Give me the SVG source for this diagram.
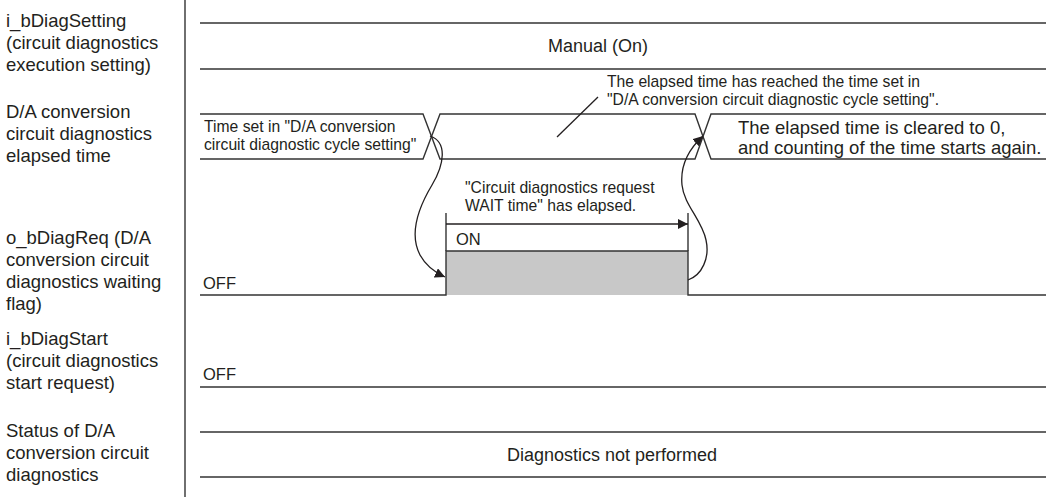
<svg xmlns="http://www.w3.org/2000/svg" width="1046" height="497" viewBox="0 0 1046 497">
<style>
text{font-family:"Liberation Sans",Arial,sans-serif;fill:#231f20}
.lbl{font-size:18.5px}
.sm{font-size:15.7px}
.md{font-size:16.5px}
.st{font-size:18px}
.big{font-size:18.5px}
.ln{fill:none;stroke:#333;stroke-width:1.4}
.cv{fill:none;stroke:#231f20;stroke-width:1.3}
</style>
<defs>
<marker id="ah" viewBox="0 0 10 10" refX="10" refY="5" markerWidth="10" markerHeight="10" markerUnits="userSpaceOnUse" orient="auto">
<path d="M0,0 L10,5 L0,10 Z" fill="#231f20"/>
</marker>
</defs>
<rect width="1046" height="497" fill="#fff"/>
<g id="labels">
<line class="ln" x1="185" y1="0" x2="185" y2="497"/>
<text class="lbl" x="6" y="27">i_bDiagSetting</text>
<text class="lbl" x="6" y="49">(circuit diagnostics</text>
<text class="lbl" x="6" y="71">execution setting)</text>
<text class="lbl" x="6" y="118">D/A conversion</text>
<text class="lbl" x="6" y="140">circuit diagnostics</text>
<text class="lbl" x="6" y="162">elapsed time</text>
<text class="lbl" x="6" y="244">o_bDiagReq (D/A</text>
<text class="lbl" x="6" y="266">conversion circuit</text>
<text class="lbl" x="6" y="288">diagnostics waiting</text>
<text class="lbl" x="6" y="310">flag)</text>
<text class="lbl" x="6" y="345">i_bDiagStart</text>
<text class="lbl" x="6" y="367">(circuit diagnostics</text>
<text class="lbl" x="6" y="389">start request)</text>
<text class="lbl" x="6" y="437">Status of D/A</text>
<text class="lbl" x="6" y="459">conversion circuit</text>
<text class="lbl" x="6" y="481">diagnostics</text>
</g>
<g id="row-setting">
<line class="ln" x1="200" y1="23" x2="1046" y2="23"/>
<line class="ln" x1="200" y1="69" x2="1046" y2="69"/>
<text class="st" x="598" y="52" text-anchor="middle">Manual (On)</text>
</g>
<g id="row-elapsed">
<path class="ln" d="M200,114 H423 L440,159 H695 L711,114 H1046"/>
<path class="ln" d="M200,159 H423 L440,114 H695 L711,159 H1046"/>
<text class="sm" x="204" y="132">Time set in "D/A conversion</text>
<text class="sm" x="204" y="150">circuit diagnostic cycle setting"</text>
<text class="sm" x="607" y="87">The elapsed time has reached the time set in</text>
<text class="sm" x="607" y="105">"D/A conversion circuit diagnostic cycle setting".</text>
<line class="cv" x1="557" y1="137" x2="598" y2="97"/>
<text class="big" x="738" y="134">The elapsed time is cleared to 0,</text>
<text class="big" x="738" y="154">and counting of the time starts again.</text>
</g>
<g id="row-req">
<rect x="446" y="251" width="242" height="44" fill="#c8c8c8"/>
<path class="ln" d="M200,295 H446 V251 H688 V295 H1046"/>
<line class="ln" x1="446" y1="213" x2="446" y2="251"/>
<line class="ln" x1="688" y1="213" x2="688" y2="251"/>
<text class="md" x="203" y="289">OFF</text>
<text class="md" x="456" y="245">ON</text>
<text class="sm" x="465" y="193">"Circuit diagnostics request</text>
<text class="sm" x="465" y="211">WAIT time" has elapsed.</text>
</g>
<g id="row-start">
<line class="ln" x1="200" y1="387" x2="1046" y2="387"/>
<text class="md" x="203" y="380">OFF</text>
</g>
<g id="row-status">
<line class="ln" x1="200" y1="432" x2="1046" y2="432"/>
<line class="ln" x1="200" y1="477" x2="1046" y2="477"/>
<text class="st" x="612" y="461" text-anchor="middle">Diagnostics not performed</text>
</g>
<g id="connectors">
<line class="cv" x1="446" y1="224" x2="688" y2="224" marker-end="url(#ah)"/>
<path class="cv" d="M430,136 C448,142 444,165 432,185 C420,205 408,232 420,255 C426,266 434,272 445,277" marker-end="url(#ah)"/>
<path class="cv" d="M688,280 C702,275 710,258 706,240 C702,220 684,205 682,185 C680,165 690,148 703,136" marker-end="url(#ah)"/>
</g>
</svg>
